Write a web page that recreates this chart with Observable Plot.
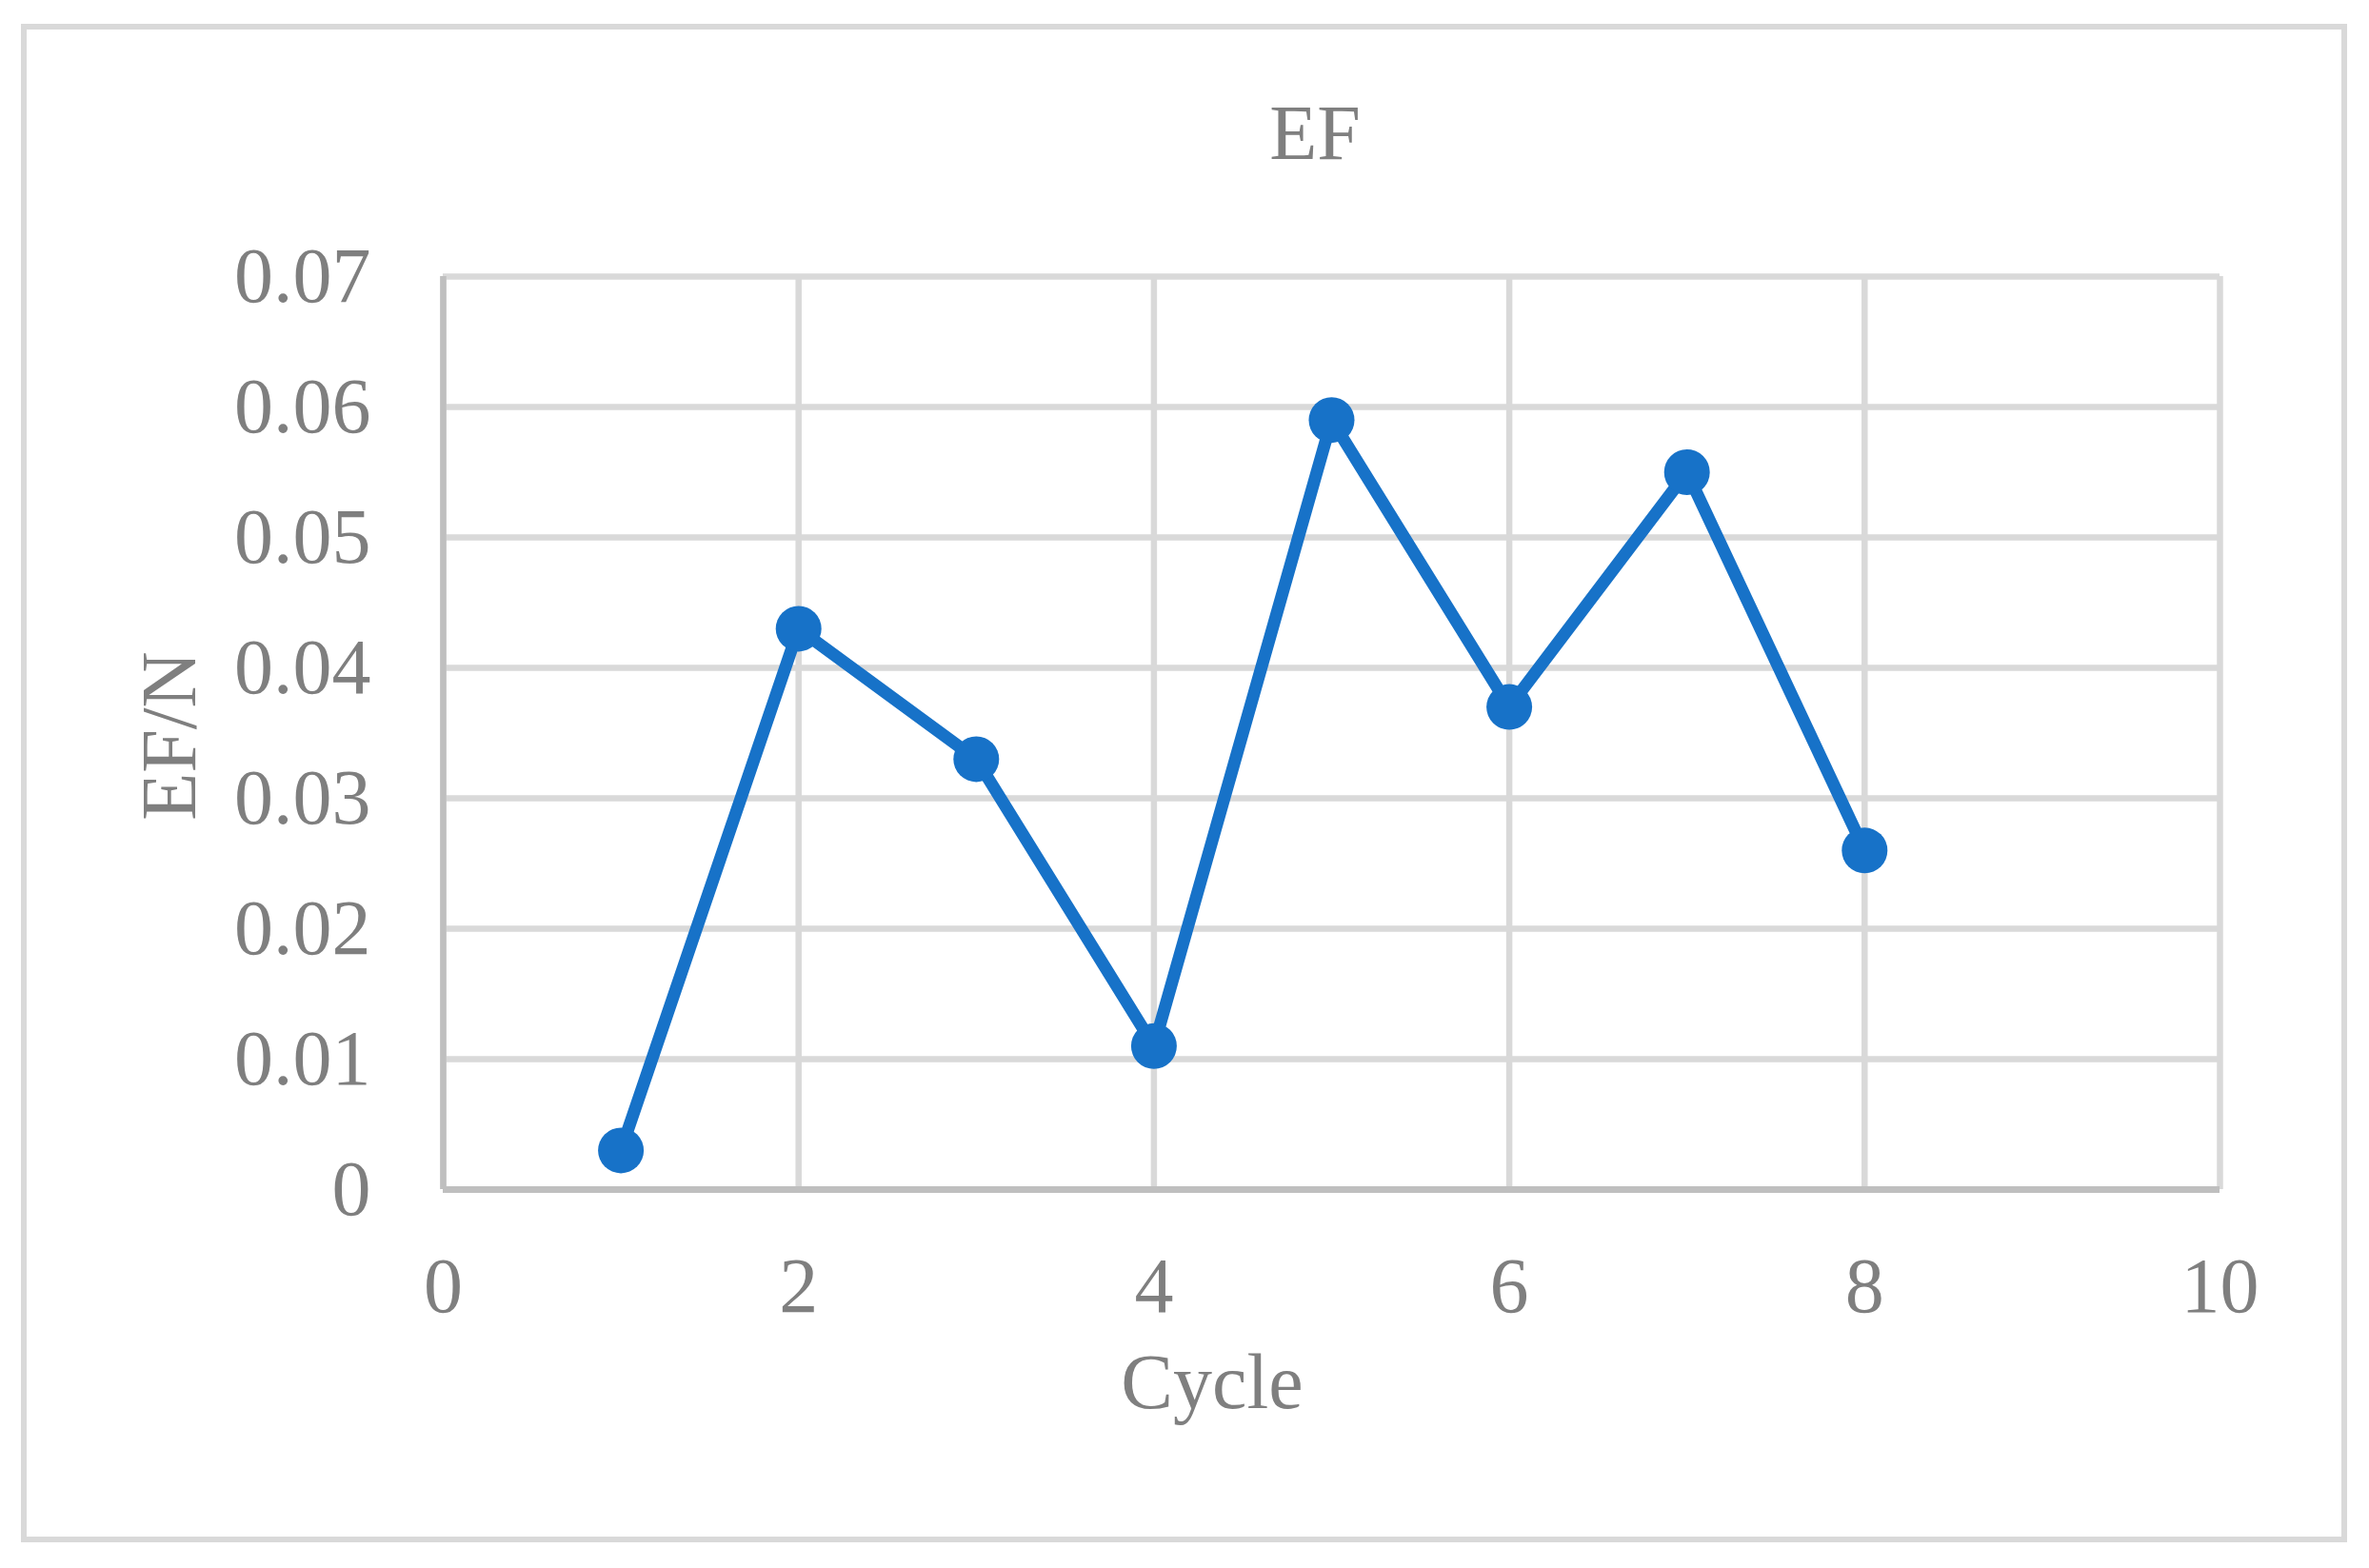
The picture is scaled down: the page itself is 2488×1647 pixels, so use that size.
<!DOCTYPE html>
<html><head><meta charset="utf-8">
<script src="https://cdn.jsdelivr.net/npm/d3@7"></script>
<script src="https://cdn.jsdelivr.net/npm/@observablehq/plot@0.6"></script>
<style>
html,body{margin:0;padding:0;background:#fff;}
#wrap{position:relative;width:2488px;height:1647px;font-family:"Liberation Serif","Times New Roman",serif;color:#7f7f7f;overflow:hidden;}
#border{position:absolute;left:22px;top:25px;width:2443px;height:1595px;border:6px solid #d9d9d9;box-sizing:border-box;}
#chart{position:absolute;left:0;top:0;}
.lbl{position:absolute;font-size:82px;line-height:1;white-space:nowrap;transform:translate(-50%,-50%);}
#title{left:1381px;top:140px;}
#xlabel{left:1273px;top:1452px;}
#ylabel{left:178px;top:773px;transform:translate(-50%,-50%) rotate(-90deg);}
</style>
</head><body>
<div id="wrap">
  <div id="border"></div>
  <div id="chart"></div>
  <div class="lbl" id="title">EF</div>
  <div class="lbl" id="xlabel">Cycle</div>
  <div class="lbl" id="ylabel">EF/N</div>
</div>
<script>
const cycles = [1, 2, 3, 4, 5, 6, 7, 8];
const efValues = [0.003, 0.043, 0.033, 0.011, 0.059, 0.037, 0.055, 0.026];
const xTicks = [0, 2, 4, 6, 8, 10];
const yTicks = [0, 0.01, 0.02, 0.03, 0.04, 0.05, 0.06, 0.07];
const yTickLabels = ["0", "0.01", "0.02", "0.03", "0.04", "0.05", "0.06", "0.07"];

const data = cycles.map((c, i) => ({cycle: c, ef: efValues[i]}));
const blue = "#1772c8";

const chart = Plot.plot({
  width: 2488,
  height: 1647,
  marginLeft: 465,
  marginRight: 157,
  marginTop: 290,
  marginBottom: 398,
  style: {fontFamily: '"Liberation Serif","Times New Roman",serif', fontSize: "82px", color: "#7f7f7f", background: "transparent"},
  x: {domain: [0, 10]},
  y: {domain: [0, 0.07]},
  marks: [
    Plot.gridX(xTicks, {stroke: "#d9d9d9", strokeOpacity: 1, strokeWidth: 6.5}),
    Plot.gridY(yTicks, {stroke: "#d9d9d9", strokeOpacity: 1, strokeWidth: 6.5}),
    Plot.ruleX([0], {stroke: "#bfbfbf", strokeWidth: 6.5}),
    Plot.ruleY([0], {stroke: "#bfbfbf", strokeWidth: 7}),
    Plot.axisX({ticks: xTicks, tickSize: 0, tickPadding: 70, label: null, tickFormat: d => String(d)}),
    Plot.axisY({ticks: yTicks, tickSize: 0, tickPadding: 76, label: null, tickFormat: d => yTickLabels[yTicks.indexOf(d)] ?? String(d)}),
    Plot.line(data, {x: "cycle", y: "ef", stroke: blue, strokeWidth: 13}),
    Plot.dot(data, {x: "cycle", y: "ef", r: 24, fill: blue, stroke: "none"})
  ]
});
document.getElementById("chart").appendChild(chart);
</script>
</body></html>
